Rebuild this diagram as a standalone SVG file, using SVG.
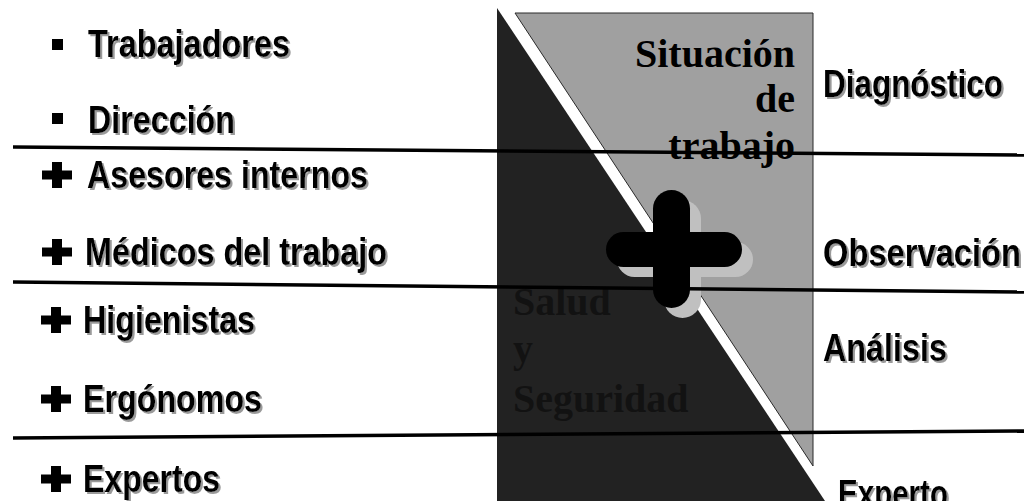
<svg xmlns="http://www.w3.org/2000/svg" xmlns:xlink="http://www.w3.org/1999/xlink" width="1024" height="501" viewBox="0 0 1024 501">
  <style>
    .lbl { font-family: "Liberation Sans", Arial, sans-serif; font-weight: bold; font-size: 38px; fill: #000; filter: url(#shadow); }
    .serif { font-family: "Liberation Serif", "Times New Roman", serif; font-weight: bold; font-size: 40px; }
    .sit { fill: #000; text-anchor: end; }
    .sal { fill: #121212; }
    .rule { stroke: #000; stroke-width: 3.5; fill: none; }
  </style>
  <defs>
    <filter id="shadow" filterUnits="userSpaceOnUse" x="0" y="0" width="1024" height="501">
      <feDropShadow dx="2" dy="2" stdDeviation="0.6" flood-color="#9a9a9a" flood-opacity="1"/>
    </filter>
    <g id="plus">
      <rect x="-15" y="-4.5" width="30" height="9" fill="#000"/>
      <rect x="-5" y="-13" width="10" height="26" fill="#000"/>
    </g>
  </defs>
  <rect width="1024" height="501" fill="#fff"/>

  <g id="diagram">
    <polygon points="497,8 497,501 825,501" fill="#222"/>
    <polygon points="515,13 813,13 813,466" fill="#a0a0a0" stroke="#2a2a2a" stroke-width="1"/>
  </g>

  <g id="situacion">
    <text class="serif sit" x="795" y="67">Situación</text>
    <text class="serif sit" x="795" y="112">de</text>
    <text class="serif sit" x="795" y="159">trabajo</text>
  </g>

  <g id="salud">
    <text class="serif sal" x="513" y="315">Salud</text>
    <text class="serif sal" x="513" y="362">y</text>
    <text class="serif sal" x="513" y="412">Seguridad</text>
  </g>

  <g id="cruz">
    <g stroke="#c0c0c0" stroke-linecap="round" transform="translate(11,10)">
      <line x1="671.5" y1="208.5" x2="671.5" y2="289.5" stroke-width="37"/>
      <line x1="623.5" y1="249.5" x2="724.5" y2="249.5" stroke-width="35"/>
    </g>
    <g stroke="#000" stroke-linecap="round">
      <line x1="671.5" y1="208.5" x2="671.5" y2="289.5" stroke-width="37"/>
      <line x1="623.5" y1="249.5" x2="724.5" y2="249.5" stroke-width="35"/>
    </g>
  </g>

  <g id="trabajadores">
    <rect x="52" y="39" width="11" height="11" fill="#000"/>
    <text class="lbl" x="88" y="57" textLength="202" lengthAdjust="spacingAndGlyphs">Trabajadores</text>
  </g>
  <g id="direccion">
    <rect x="52" y="113" width="11" height="11" fill="#000"/>
    <text class="lbl" x="88" y="133" textLength="147" lengthAdjust="spacingAndGlyphs">Dirección</text>
  </g>
  <g id="asesores">
    <use xlink:href="#plus" x="57" y="175"/>
    <text class="lbl" x="87" y="188" textLength="281" lengthAdjust="spacingAndGlyphs">Asesores internos</text>
  </g>
  <g id="medicos">
    <use xlink:href="#plus" x="57" y="252"/>
    <text class="lbl" x="85" y="265" textLength="302" lengthAdjust="spacingAndGlyphs">Médicos del trabajo</text>
  </g>
  <g id="higienistas">
    <use xlink:href="#plus" x="56" y="320"/>
    <text class="lbl" x="83" y="333" textLength="172" lengthAdjust="spacingAndGlyphs">Higienistas</text>
  </g>
  <g id="ergonomos">
    <use xlink:href="#plus" x="56" y="399"/>
    <text class="lbl" x="83" y="412" textLength="179" lengthAdjust="spacingAndGlyphs">Ergónomos</text>
  </g>
  <g id="expertos">
    <use xlink:href="#plus" x="56" y="479"/>
    <text class="lbl" x="83" y="492" textLength="137" lengthAdjust="spacingAndGlyphs">Expertos</text>
  </g>

  <g id="diagnostico"><text class="lbl" x="823" y="97" textLength="180" lengthAdjust="spacingAndGlyphs">Diagnóstico</text></g>
  <g id="observacion"><text class="lbl" x="823" y="266" textLength="198" lengthAdjust="spacingAndGlyphs">Observación</text></g>
  <g id="analisis"><text class="lbl" x="823" y="361" textLength="124" lengthAdjust="spacingAndGlyphs">Análisis</text></g>
  <g id="experto"><text class="lbl" x="838" y="507" textLength="110" lengthAdjust="spacingAndGlyphs">Experto</text></g>

  <g id="connectors">
    <line class="rule" x1="13" y1="147" x2="1024" y2="155"/>
    <line class="rule" x1="13" y1="282" x2="1024" y2="292"/>
    <line class="rule" x1="13" y1="438" x2="1024" y2="431"/>
  </g>
</svg>
